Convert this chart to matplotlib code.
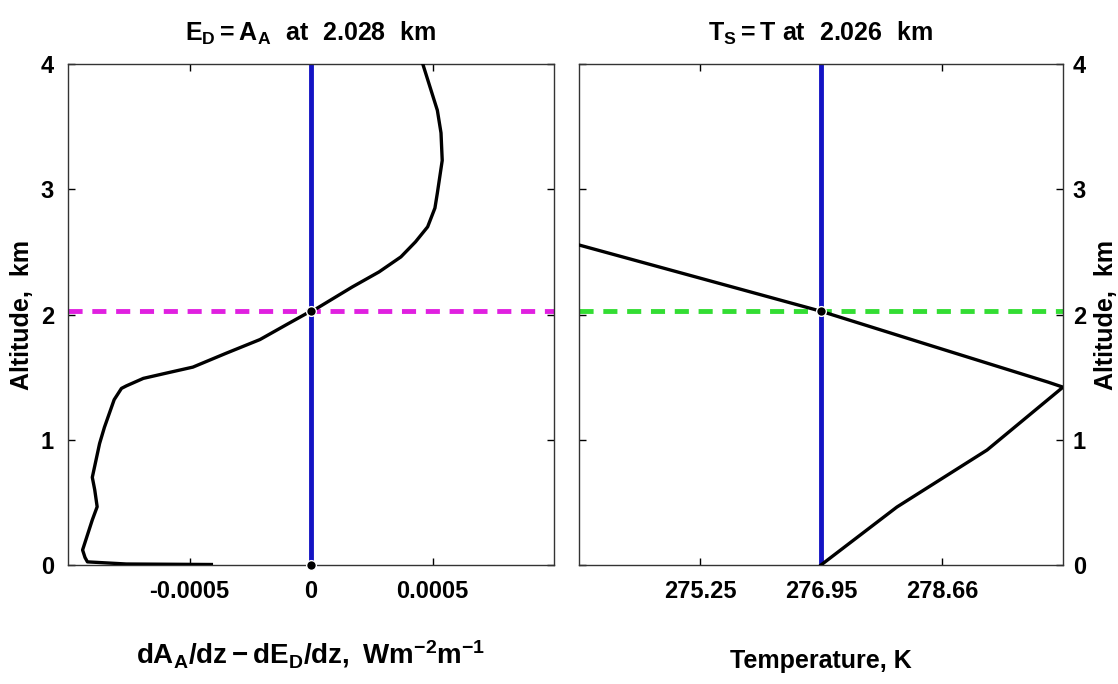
import matplotlib
matplotlib.use('Agg')
import matplotlib.pyplot as plt

plt.rcParams['font.family'] = ['Liberation Sans', 'DejaVu Sans']
plt.rcParams['font.weight'] = 'bold'
plt.rcParams['mathtext.fontset'] = 'custom'
plt.rcParams['mathtext.bf'] = 'Liberation Sans:bold'
plt.rcParams['mathtext.rm'] = 'Liberation Sans:bold'
plt.rcParams['mathtext.it'] = 'Liberation Sans:bold'
plt.rcParams['mathtext.default'] = 'bf'

# left panel: dA/dz - dE/dz profile
left_z = [4.0, 3.63, 3.45, 3.23, 2.97, 2.85, 2.70, 2.58, 2.46, 2.34, 2.22,
          2.05, 2.028, 1.92, 1.80, 1.69, 1.58, 1.53, 1.49, 1.43, 1.41, 1.32, 1.10, 0.97,
          0.70, 0.60, 0.465, 0.36, 0.12, 0.06, 0.025, 0.008, 0.004]
left_x = [0.00046, 0.00052, 0.000535, 0.00054, 0.00052, 0.00051, 0.00048, 0.00043,
          0.00037, 0.00028, 0.00017, 0.000025, 0.0, -0.0001, -0.00021,
          -0.00035, -0.000486, -0.0006, -0.00069, -0.00076, -0.00078, -0.00081, -0.00085,
          -0.00087, -0.0009, -0.00089, -0.00088, -0.0009, -0.00094, -0.00093, -0.00092,
          -0.00076, -0.00041]
left_cross = 2.028
left_ticks = [-0.0005, 0, 0.0005]
left_ticklabels = ['-0.0005', '0', '0.0005']

# right panel: temperature profile
right_T = [273.54, 276.95, 278.53, 280.15, 280.36, 279.29, 278.02, 276.95]
right_z = [2.555, 2.026, 1.746, 1.46, 1.42, 0.918, 0.463, 0.0]
right_cross = 2.026
right_T0 = 276.95
right_ticks = [275.25, 276.95, 278.66]
right_ticklabels = ['275.25', '276.95', '278.66']
right_xlim = (273.54, 280.36)

alt_ticks = [0, 1, 2, 3, 4]

blue = '#1414c4'
dash = (0, (2.9, 2.0))

fig = plt.figure(figsize=(11.18, 6.84), dpi=100)
ax1 = fig.add_axes([68/1118, 119/684, 486/1118, 501/684])
ax2 = fig.add_axes([579/1118, 119/684, 484/1118, 501/684])

# left
ax1.plot([0, 0], [0, 4], color=blue, lw=3.5, zorder=2)
ax1.plot(left_x, left_z, color='black', lw=2.4, zorder=3, solid_joinstyle='round')
ax1.axhline(left_cross, color='#e020e0', lw=3.5, linestyle=dash, zorder=2)
ax1.plot([0, 0], [left_cross, 0], 'o', color='black', ms=7, mec='white', mew=1,
         zorder=5, clip_on=False)
ax1.set_xlim(-0.001, 0.001)
ax1.set_ylim(0, 4)
ax1.set_xticks(left_ticks)
ax1.set_xticklabels(left_ticklabels)
ax1.set_yticks(alt_ticks)
ax1.set_title(r'$E_D = A_A\ \ at\ \ 2.028\ \ km$', fontsize=18, pad=17)
ax1.set_xlabel(r'$dA_A/dz - dE_D/dz,\ Wm^{-2}m^{-1}$', fontsize=20, labelpad=25)
ax1.set_ylabel('Altitude,  km', fontsize=18, fontweight='bold', labelpad=5)

# right
ax2.plot([right_T0, right_T0], [0, 4], color=blue, lw=3.5, zorder=2)
ax2.plot(right_T, right_z, color='black', lw=2.4, zorder=3, solid_joinstyle='round')
ax2.axhline(right_cross, color='#33dd33', lw=3.5, linestyle=dash, zorder=2)
ax2.plot([right_T0], [right_cross], 'o', color='black', ms=7, mec='white', mew=1,
         zorder=5)
ax2.set_xlim(*right_xlim)
ax2.set_ylim(0, 4)
ax2.set_xticks(right_ticks)
ax2.set_xticklabels(right_ticklabels)
ax2.set_yticks(alt_ticks)
ax2.yaxis.tick_right()
ax2.yaxis.set_label_position('right')
ax2.set_title(r'$T_S = T\ at\ \ 2.026\ \ km$', fontsize=18, pad=17)
ax2.set_xlabel('Temperature, K', fontsize=18, fontweight='bold', labelpad=33)
ax2.set_ylabel('Altitude,  km', fontsize=18, fontweight='bold', labelpad=6)

for ax in (ax1, ax2):
    ax.tick_params(direction='in', length=5, width=1, top=True, bottom=True,
                   left=True, right=True, labelsize=17)
    ax.tick_params(axis='x', pad=11)
    for s in ax.spines.values():
        s.set_linewidth(1.0)
        s.set_color('#333333')
    for lab in ax.get_xticklabels() + ax.get_yticklabels():
        lab.set_fontweight('bold')
ax1.tick_params(axis='y', pad=10, labelright=False)
ax2.tick_params(axis='y', pad=7, labelleft=False, labelright=True)

fig.savefig('out.png', dpi=100)
